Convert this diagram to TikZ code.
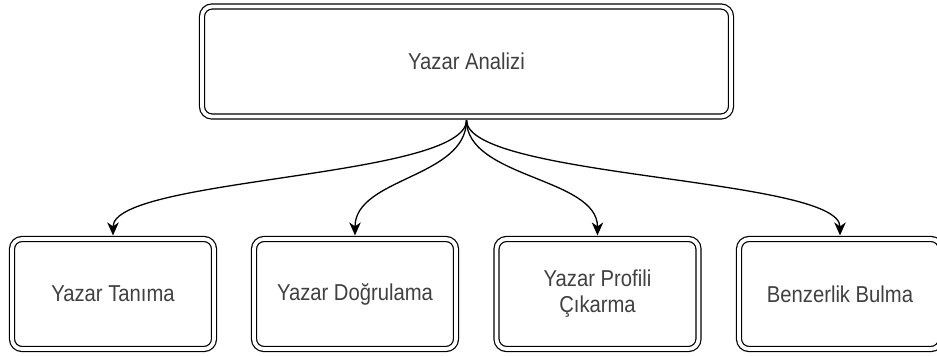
\documentclass[tikz,border=0pt]{standalone}
\usepackage{fontspec}
\setmainfont{Liberation Sans}[FakeStretch=0.88]
\usetikzlibrary{arrows.meta}
\definecolor{labelgray}{RGB}{64,64,64}
\begin{document}
\begin{tikzpicture}[x=1pt,y=-1pt,
  box/.style={draw=black, line width=1.2pt, double=white, double distance=3.8pt,
    rounded corners=10pt, inner sep=0pt, align=center,
    minimum width=202pt, minimum height=110pt,
    font=\fontsize{23}{26}\selectfont, text=labelgray},
  edge/.style={draw=black, line width=1.3pt,
    -{Stealth[length=13pt,width=11.5pt,inset=4pt]},
    shorten <=3pt, shorten >=3pt}]
  \useasboundingbox (0,0) rectangle (937,356);

  % root task
  \node[box, minimum width=529pt] (root) at (466.5,61.5) {Yazar Analizi};

  % sub-tasks
  \node[box] (tanima)    at (113,294)   {Yazar Tanıma};
  \node[box] (dogrulama) at (355,294)   {Yazar Doğrulama};
  \node[box] (profil)    at (597.5,294) {Yazar Profili\\Çıkarma};
  \node[box] (benzer)    at (840,294)   {Benzerlik Bulma};

  % curved links from the root
  \foreach \t in {tanima,dogrulama,profil,benzer}
    \draw[edge] (root.south) .. controls +(0,61) and +(0,-61) .. (\t.north);
\end{tikzpicture}
\end{document}
